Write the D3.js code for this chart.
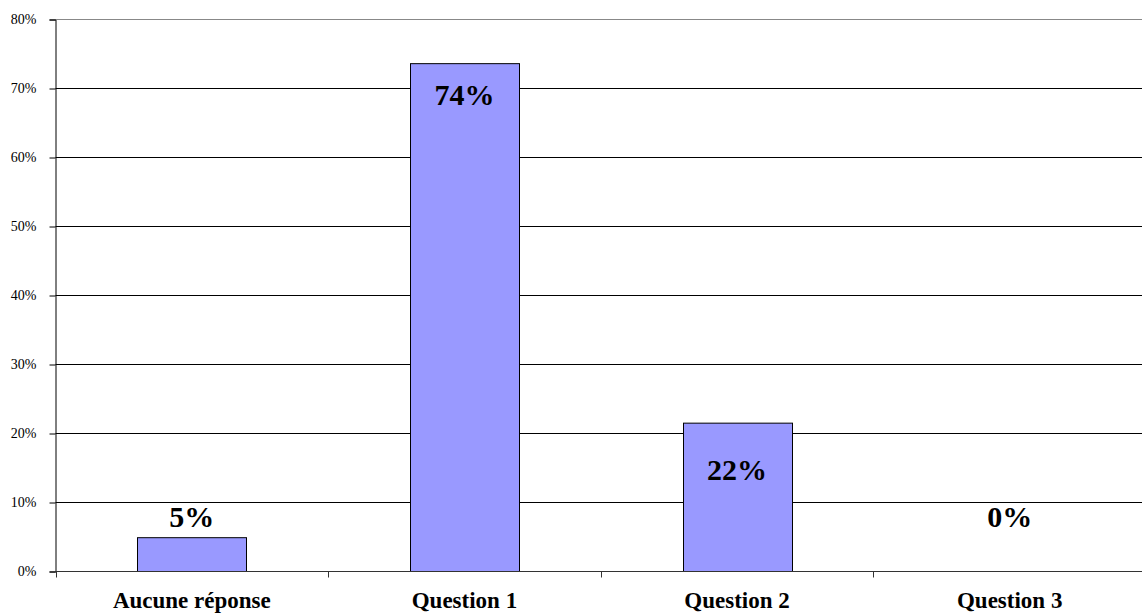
<!DOCTYPE html>
<html>
<head>
<meta charset="utf-8">
<script src="https://cdn.jsdelivr.net/npm/d3@7"></script>
<style>
  html, body { margin: 0; padding: 0; background: #fff; }
  svg text { font-family: "Times New Roman", "Liberation Serif", Times, serif; }
</style>
</head>
<body>
<div id="chart"></div>
<script>
// data
var categories = ["Aucune réponse", "Question 1", "Question 2", "Question 3"];
var values = [0.049, 0.736, 0.215, 0];
var valueLabels = ["5%", "74%", "22%", "0%"];
// where Excel put each data label (baseline, in value units)
var labelAt = [0.0645, 0.676, 0.133, 0.0645];
var yTicks = [0, 0.1, 0.2, 0.3, 0.4, 0.5, 0.6, 0.7, 0.8];

var width = 1142, height = 614;
var margin = { top: 19.5, right: -4, bottom: 42.5, left: 55.5 };
var serif = "'Times New Roman', 'Liberation Serif', Times, serif";

var x = d3.scaleBand()
    .domain(categories)
    .range([margin.left, width - margin.right])
    .padding(0);
var y = d3.scaleLinear()
    .domain([0, 0.8])
    .range([height - margin.bottom, margin.top]);

var svg = d3.select("#chart").append("svg")
    .attr("width", width)
    .attr("height", height)
    .style("display", "block");

// gridlines
svg.append("g")
    .selectAll("line")
    .data(yTicks.slice(1))
    .enter().append("line")
    .attr("x1", margin.left)
    .attr("x2", width)
    .attr("y1", function (d) { return y(d); })
    .attr("y2", function (d) { return y(d); })
    .attr("stroke", function (d) { return d === 0.8 ? "#888" : "#000"; })
    .attr("stroke-width", 1);

// y axis
var yAxis = d3.axisLeft(y)
    .tickValues(yTicks)
    .tickFormat(d3.format(".0%"))
    .tickSize(6)
    .tickPadding(13);
svg.append("g")
    .attr("class", "y axis")
    .attr("transform", "translate(" + margin.left + ",0)")
    .call(yAxis)
    .call(function (g) {
        g.attr("font-family", serif).attr("font-size", 14);
        g.select(".domain").attr("stroke", "#000");
        g.selectAll(".tick line").attr("stroke", "#000");
        g.selectAll("text").attr("fill", "#000");
    });

// bars
var barW = x.bandwidth() * 0.4;
svg.append("g")
    .attr("class", "bars")
    .selectAll("rect")
    .data(values)
    .enter().append("rect")
    .attr("x", function (d, i) { return Math.round(x(categories[i]) + (x.bandwidth() - barW) / 2) + 0.5; })
    .attr("y", function (d) { return y(d); })
    .attr("width", Math.round(barW))
    .attr("height", function (d) { return y(0) - y(d); })
    .attr("fill", "#9999FF")
    .attr("stroke", "#000")
    .attr("stroke-width", 1)
    .attr("display", function (d) { return d > 0 ? null : "none"; });

// x axis line and ticks at band edges
svg.append("line")
    .attr("x1", margin.left)
    .attr("x2", width)
    .attr("y1", y(0))
    .attr("y2", y(0))
    .attr("stroke", "#333");
svg.append("g")
    .selectAll("line")
    .data(categories)
    .enter().append("line")
    .attr("x1", function (d) { return Math.round(x(d)) + 0.5; })
    .attr("x2", function (d) { return Math.round(x(d)) + 0.5; })
    .attr("y1", y(0))
    .attr("y2", y(0) + 6)
    .attr("stroke", "#333");

// category labels
svg.append("g")
    .selectAll("text")
    .data(categories)
    .enter().append("text")
    .attr("x", function (d) { return x(d) + x.bandwidth() / 2; })
    .attr("y", 608)
    .attr("text-anchor", "middle")
    .attr("font-family", serif)
    .attr("font-size", 23)
    .attr("font-weight", "bold")
    .text(function (d) { return d; });

// data labels
svg.append("g")
    .selectAll("text")
    .data(valueLabels)
    .enter().append("text")
    .attr("x", function (d, i) { return x(categories[i]) + x.bandwidth() / 2; })
    .attr("y", function (d, i) { return y(labelAt[i]); })
    .attr("text-anchor", "middle")
    .attr("font-family", serif)
    .attr("font-size", 30)
    .attr("font-weight", "bold")
    .text(function (d) { return d; });
</script>
</body>
</html>
